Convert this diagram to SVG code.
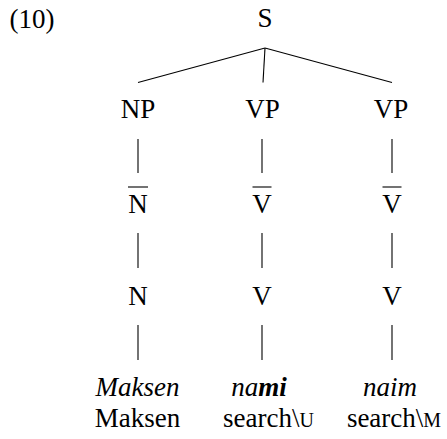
<svg xmlns="http://www.w3.org/2000/svg" width="447" height="439" viewBox="0 0 447 439">
<style>
text{font-family:"Liberation Serif",serif;font-size:27px;fill:#000;text-anchor:middle}
.it{font-style:italic}
.sc{font-size:20px}
line{stroke:#000;stroke-width:1.1}
</style>
<rect width="447" height="439" fill="#fff"/>
<text x="32" y="28">(10)</text>
<g id="connectors">
<line x1="265" y1="48" x2="138" y2="82.5"/>
<line x1="265" y1="48" x2="263" y2="82.5"/>
<line x1="265" y1="48" x2="392" y2="82.5"/>
<line x1="138" y1="139" x2="138" y2="173"/>
<line x1="262" y1="139" x2="262" y2="173"/>
<line x1="392" y1="139" x2="392" y2="173"/>
<line x1="138" y1="233" x2="138" y2="268"/>
<line x1="262" y1="233" x2="262" y2="268"/>
<line x1="392" y1="233" x2="392" y2="268"/>
<line x1="138" y1="325" x2="138" y2="360"/>
<line x1="262" y1="325" x2="262" y2="360"/>
<line x1="392" y1="325" x2="392" y2="360"/>
</g>
<g id="S"><text x="265" y="27">S</text></g>
<g id="NP"><text x="138" y="118">NP</text></g>
<g id="VP1"><text x="262.5" y="118">VP</text></g>
<g id="VP2"><text x="391" y="118">VP</text></g>
<g id="Nbar"><line x1="128" y1="187" x2="148" y2="187"/><text x="138" y="213">N</text></g>
<g id="Vbar1"><line x1="252.5" y1="187" x2="271.5" y2="187"/><text x="262" y="213">V</text></g>
<g id="Vbar2"><line x1="382.5" y1="187" x2="401.5" y2="187"/><text x="392" y="213">V</text></g>
<g id="N"><text x="138" y="305">N</text></g>
<g id="V1"><text x="262" y="305">V</text></g>
<g id="V2"><text x="392" y="305">V</text></g>
<g id="w1"><text x="137.5" y="396" class="it">Maksen</text><text x="137.5" y="427">Maksen</text></g>
<g id="w2"><text x="259" y="396" class="it">na<tspan font-weight="bold">mi</tspan></text><text x="268.5" y="427">search\<tspan class="sc">U</tspan></text></g>
<g id="w3"><text x="390" y="396" class="it">naim</text><text x="394" y="427">search\<tspan class="sc">M</tspan></text></g>
</svg>
